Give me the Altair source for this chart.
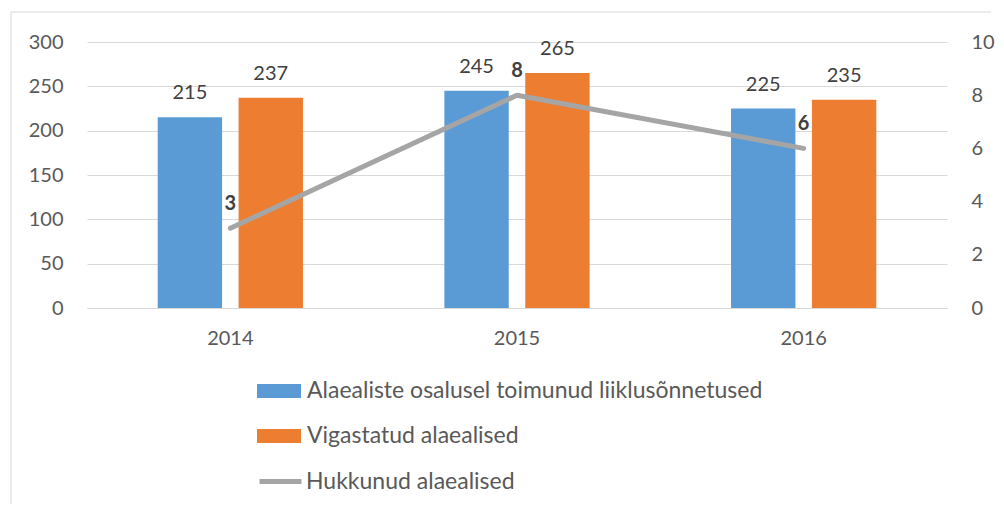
import altair as alt
import pandas as pd

years = ["2014", "2015", "2016"]
accidents = [215, 245, 225]
injured = [237, 265, 235]
killed = [3, 8, 6]
bar_series = ["Alaealiste osalusel toimunud liiklusõnnetused", "Vigastatud alaealised"]
line_series = "Hukkunud alaealised"
bar_colors = ["#5b9bd5", "#ed7d31"]
line_color = "#a5a5a5"
left_ticks = [0, 50, 100, 150, 200, 250, 300]
right_ticks = [0, 2, 4, 6, 8, 10]

FONT = "Lato"
TXT = "#595959"
LBL = "#404040"
GRID = "#d9d9d9"
LEG_FS = 23

rows = []
for i, y in enumerate(years):
    rows.append({"year": y, "series": bar_series[0], "value": accidents[i]})
    rows.append({"year": y, "series": bar_series[1], "value": injured[i]})
bars_df = pd.DataFrame(rows)
line_df = pd.DataFrame({"year": years, "value": killed, "line": [line_series] * 3})

x_enc = alt.X("year:N", title=None,
              scale=alt.Scale(paddingInner=0, paddingOuter=0),
              axis=alt.Axis(labelAngle=0, labelFont=FONT, labelFontSize=20, labelColor=TXT,
                            labelPadding=20, ticks=False, domainColor=GRID, domainWidth=1))
xoff = alt.XOffset("series:N", sort=bar_series,
                   scale=alt.Scale(paddingInner=0.204, paddingOuter=0.874))
y_left = alt.Y("value:Q", title=None,
               scale=alt.Scale(domain=[0, 300]),
               axis=alt.Axis(values=left_ticks, labelFont=FONT, labelFontSize=20, labelColor=TXT,
                             labelPadding=24, ticks=False, domain=False, gridColor=GRID,
                             gridWidth=1))

bars = alt.Chart(bars_df).mark_bar().encode(
    x=x_enc, xOffset=xoff, y=y_left,
    color=alt.Color("series:N", sort=bar_series,
                    scale=alt.Scale(domain=bar_series, range=bar_colors),
                    legend=alt.Legend(title=None, orient="none", legendX=170, legendY=327,
                                      direction="vertical",
                                      symbolType="M-1,-0.32H1V0.32H-1Z", symbolSize=1936,
                                      symbolStrokeWidth=0, symbolOpacity=1,
                                      labelFont=FONT, labelFontSize=LEG_FS, labelColor=TXT,
                                      labelOffset=6, rowPadding=11, labelLimit=700)),
)
bar_labels = alt.Chart(bars_df).mark_text(dy=-14, baseline="bottom", font=FONT, fontSize=20,
                                          color=LBL).encode(
    x=alt.X("year:N"), xOffset=alt.XOffset("series:N", sort=bar_series),
    y=alt.Y("value:Q"), text=alt.Text("value:Q"),
)
left = alt.layer(bars, bar_labels)

y_right = alt.Y("value:Q", title=None,
                scale=alt.Scale(domain=[0, 10]),
                axis=alt.Axis(orient="right", values=right_ticks, labelFont=FONT, labelFontSize=20,
                              labelColor=TXT, labelPadding=24, ticks=False, domain=False,
                              grid=False))
line = alt.Chart(line_df).mark_line(strokeWidth=5, strokeCap="round", strokeJoin="round").encode(
    x=alt.X("year:N"), y=y_right,
    stroke=alt.Stroke("line:N", scale=alt.Scale(domain=[line_series], range=[line_color]),
                      legend=alt.Legend(title=None, orient="none", legendX=170, legendY=416,
                                        symbolType="stroke", symbolSize=1764,
                                        symbolStrokeWidth=5,
                                        labelFont=FONT, labelFontSize=LEG_FS, labelColor=TXT,
                                        labelOffset=2, labelLimit=700)),
)
line_labels = alt.Chart(line_df).mark_text(dy=-14, baseline="bottom", font=FONT, fontSize=20,
                                           fontWeight="bold", color=LBL).encode(
    x=alt.X("year:N"), y=alt.Y("value:Q"), text=alt.Text("value:Q"),
)
right = alt.layer(line, line_labels)

frame_data = alt.Data(values=[{}])
frame_left = alt.Chart(frame_data).mark_rule(color=GRID, strokeWidth=1).encode(
    x=alt.value(-76), y=alt.value(-30), y2=alt.value(462))
frame_top = alt.Chart(frame_data).mark_rule(color=GRID, strokeWidth=1).encode(
    x=alt.value(-76), x2=alt.value(904), y=alt.value(-30))

chart = alt.layer(left, right, frame_left, frame_top).resolve_scale(
    y="independent"
).properties(
    width=860, height=266, padding={"left": 2, "top": 3, "right": 0, "bottom": 0}
).configure_view(stroke=None)

chart.save("out.html", embed_options={"renderer": "svg", "actions": False})
